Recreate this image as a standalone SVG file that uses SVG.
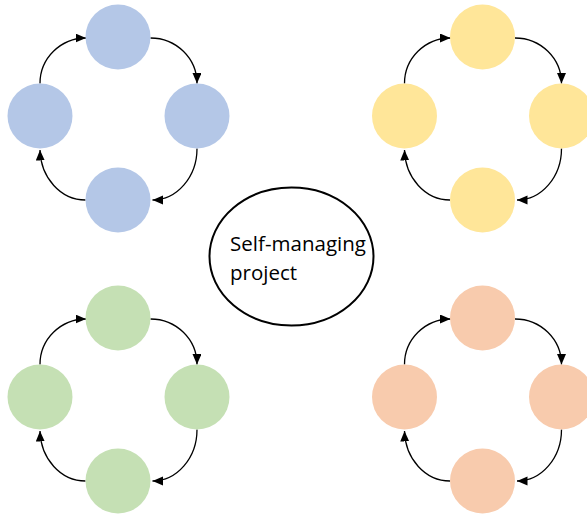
<svg xmlns="http://www.w3.org/2000/svg" width="587" height="514" viewBox="0 0 587 514">
  <style>
    .blue { fill: #B4C7E7; }
    .yellow { fill: #FFE699; }
    .green { fill: #C5E0B4; }
    .peach { fill: #F8CBAD; }
    .conn { fill: none; stroke: #000; stroke-width: 1.3; marker-end: url(#arrow); }
    .center { fill: #fff; stroke: #000; stroke-width: 2; }
    .label { font-family: "Open Sans", "Liberation Sans", sans-serif; font-size: 20.5px; fill: #000; }
  </style>
  <defs>
    <marker id="arrow" markerUnits="userSpaceOnUse" markerWidth="11" markerHeight="10" refX="10.5" refY="4.5" orient="auto">
      <path d="M0,0 L10.5,4.5 L0,9 z" fill="#000"/>
    </marker>
    <g id="cycle">
      <path d="M40,83.5 A46,45.5 0 0 1 86,38"/>
      <path d="M150.5,38 A46.5,45.5 0 0 1 197,83.5"/>
      <path d="M197,148.5 A44.5,51.5 0 0 1 152.5,200"/>
      <path d="M85.5,200 A45.5,51.5 0 0 1 40,150"/>
    </g>
  </defs>
  <rect width="587" height="514" fill="#fff"/>

  <g id="connectors">
    <use href="#cycle" class="conn"/>
    <use href="#cycle" class="conn" transform="translate(364.5,0)"/>
    <use href="#cycle" class="conn" transform="translate(0,281)"/>
    <use href="#cycle" class="conn" transform="translate(364.5,281)"/>
  </g>

  <g id="blue-top"><circle class="blue" cx="118" cy="37" r="32.5"/></g>
  <g id="blue-right"><circle class="blue" cx="197" cy="116" r="32.5"/></g>
  <g id="blue-bottom"><circle class="blue" cx="118" cy="200" r="32.5"/></g>
  <g id="blue-left"><circle class="blue" cx="40" cy="116" r="32.5"/></g>

  <g id="yellow-top"><circle class="yellow" cx="482.5" cy="37" r="32.5"/></g>
  <g id="yellow-right"><circle class="yellow" cx="561.5" cy="116" r="32.5"/></g>
  <g id="yellow-bottom"><circle class="yellow" cx="482.5" cy="200" r="32.5"/></g>
  <g id="yellow-left"><circle class="yellow" cx="404.5" cy="116" r="32.5"/></g>

  <g id="green-top"><circle class="green" cx="118" cy="318" r="32.5"/></g>
  <g id="green-right"><circle class="green" cx="197" cy="397" r="32.5"/></g>
  <g id="green-bottom"><circle class="green" cx="118" cy="481" r="32.5"/></g>
  <g id="green-left"><circle class="green" cx="40" cy="397" r="32.5"/></g>

  <g id="peach-top"><circle class="peach" cx="482.5" cy="318" r="32.5"/></g>
  <g id="peach-right"><circle class="peach" cx="561.5" cy="397" r="32.5"/></g>
  <g id="peach-bottom"><circle class="peach" cx="482.5" cy="481" r="32.5"/></g>
  <g id="peach-left"><circle class="peach" cx="404.5" cy="397" r="32.5"/></g>

  <g id="center-node">
    <ellipse class="center" cx="291.5" cy="256.5" rx="82" ry="69"/>
    <text class="label" x="230" y="251" textLength="136" lengthAdjust="spacing">Self-managing</text>
    <text class="label" x="230" y="280">project</text>
  </g>
</svg>
